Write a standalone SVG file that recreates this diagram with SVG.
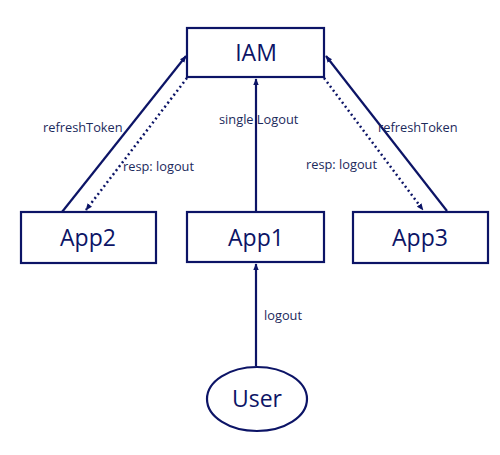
<svg xmlns="http://www.w3.org/2000/svg" width="500" height="455" viewBox="0 0 500 455">
<style>
.box{fill:#fff;stroke:#0c1466;stroke-width:2.2}
.nt{font-family:"Open Sans","Noto Sans",sans-serif;font-size:23px;fill:#0c1466;text-anchor:middle}
.lt{font-family:"Open Sans","Noto Sans",sans-serif;font-size:12.8px;fill:#1c2a5c}
.ln{stroke:#0c1466;stroke-width:2.2;fill:none}
.dot{stroke:#0c1466;stroke-width:2.5;fill:none;stroke-dasharray:2 3}
</style>
<defs>
<marker id="ahs" viewBox="0 0 10 10" refX="9" refY="5" markerWidth="7" markerHeight="7" orient="auto" markerUnits="userSpaceOnUse">
<path d="M0,1 L10,5 L0,9 z" fill="#0c1466"/>
</marker>
</defs>
<rect width="500" height="455" fill="#fff"/>
<g id="connectors">
<line class="ln" x1="62" y1="212" x2="186" y2="56" marker-end="url(#ahs)"/>
<line class="dot" x1="187" y1="78" x2="86" y2="210" marker-end="url(#ahs)"/>
<line class="ln" x1="256" y1="212" x2="256" y2="79" marker-end="url(#ahs)"/>
<line class="ln" x1="447" y1="211" x2="326" y2="56" marker-end="url(#ahs)"/>
<line class="dot" x1="324" y1="78" x2="423" y2="210" marker-end="url(#ahs)"/>
<line class="ln" x1="256" y1="366" x2="256" y2="264" marker-end="url(#ahs)"/>
<text class="lt" x="43" y="132">refreshToken</text>
<text class="lt" x="123" y="171">resp: logout</text>
<text class="lt" x="219" y="124">single Logout</text>
<text class="lt" x="378" y="132">refreshToken</text>
<text class="lt" x="306" y="169">resp: logout</text>
<text class="lt" x="264" y="320">logout</text>
</g>
<g id="IAM"><rect class="box" x="187" y="28" width="137" height="49"/><text class="nt" x="256" y="61">IAM</text></g>
<g id="App2"><rect class="box" x="21" y="212" width="135" height="51"/><text class="nt" x="88" y="246">App2</text></g>
<g id="App1"><rect class="box" x="187" y="212" width="137" height="50"/><text class="nt" x="256" y="246">App1</text></g>
<g id="App3"><rect class="box" x="353" y="212" width="135" height="51"/><text class="nt" x="420" y="246">App3</text></g>
<g id="User"><ellipse class="box" cx="257" cy="399" rx="50" ry="32"/><text class="nt" x="257" y="407">User</text></g>
</svg>
